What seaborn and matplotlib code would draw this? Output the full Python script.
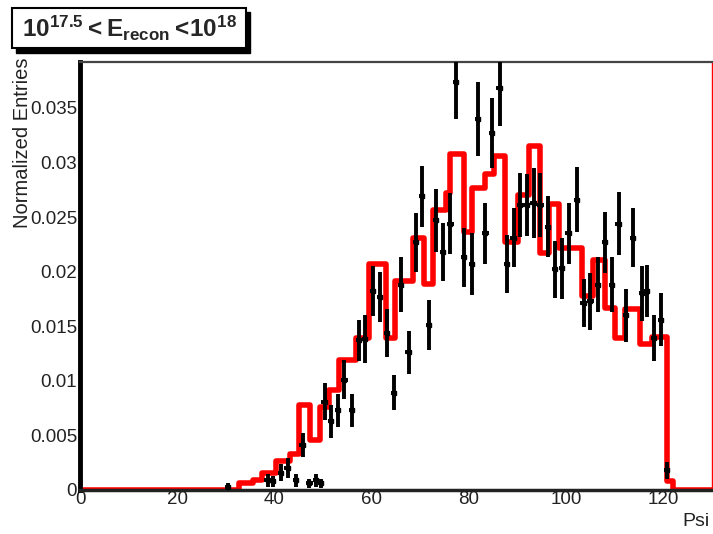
import matplotlib
matplotlib.use("Agg")
import matplotlib.pyplot as plt
from matplotlib.patches import Rectangle
from matplotlib.ticker import MultipleLocator, FuncFormatter
import numpy as np
import pandas as pd
import seaborn as sns

# ---- data ----
red_edges = [0, 32.8, 35.5, 37.5, 40.4, 43.1, 45.1, 47.4, 49.3, 51.3,
             53.3, 56.8, 59.5, 63.0, 64.8, 68.4, 70.8, 72.6, 75.2, 76.2,
             79.0, 80.7, 83.4, 85.1, 87.5, 90.0, 92.3, 94.7, 96.4, 98.5,
             103.2, 105.6, 108.0, 110.1, 112.1, 115.2, 117.6, 120.7, 122.0, 130]
red_vals = [0, 0.0006, 0.0009, 0.0016, 0.0027, 0.0033, 0.0078, 0.0046, 0.0076, 0.0092,
            0.0119, 0.0139, 0.0207, 0.0139, 0.0191, 0.0231, 0.0189, 0.0256, 0.0272, 0.0308,
            0.0236, 0.0277, 0.0289, 0.0306, 0.0227, 0.0270, 0.0315, 0.0217, 0.0262, 0.0222,
            0.0178, 0.0211, 0.0167, 0.0139, 0.0166, 0.0134, 0.0140, 0.0008, 0]

data_psi = [30.5, 38.6, 39.7, 41.4, 42.7, 44.4, 45.8, 47.2, 48.6, 49.6,
            50.3, 51.6, 53.0, 54.4, 55.9, 57.4, 58.6, 60.2, 61.7, 63.2,
            64.6, 66.0, 67.6, 69.1, 70.4, 71.8, 73.2, 74.7, 76.2, 77.4,
            79.0, 80.7, 81.9, 83.4, 84.8, 86.3, 87.9, 89.2, 90.6, 91.9,
            93.3, 94.7, 96.3, 97.7, 99.1, 100.5, 102.2, 103.6, 105.0, 106.5,
            108.0, 109.4, 110.8, 112.3, 113.7, 115.6, 116.6, 118.0, 119.5, 120.7]
data_val = [0.0003, 0.0009, 0.0008, 0.0016, 0.0020, 0.0009, 0.0041, 0.0006, 0.0009, 0.0006,
            0.0081, 0.0063, 0.0073, 0.0101, 0.0073, 0.0137, 0.0138, 0.0182, 0.0177, 0.0144,
            0.0089, 0.0188, 0.0126, 0.0227, 0.0269, 0.0151, 0.0247, 0.0218, 0.0244, 0.0374,
            0.0213, 0.0207, 0.0340, 0.0235, 0.0327, 0.0368, 0.0207, 0.0231, 0.0261, 0.0261,
            0.0263, 0.0261, 0.0241, 0.0202, 0.0203, 0.0235, 0.0266, 0.0171, 0.0173, 0.0188,
            0.0227, 0.0188, 0.0244, 0.0160, 0.0231, 0.0180, 0.0182, 0.0139, 0.0156, 0.0018]
data_err = [0.0003, 0.0006, 0.0005, 0.0008, 0.0009, 0.0006, 0.0011, 0.0004, 0.0006, 0.0004,
            0.0017, 0.0015, 0.0015, 0.0018, 0.0015, 0.0019, 0.0022, 0.0023, 0.0023, 0.0022,
            0.0016, 0.0025, 0.0020, 0.0027, 0.0028, 0.0023, 0.0029, 0.0027, 0.0028, 0.0034,
            0.0027, 0.0028, 0.0034, 0.0028, 0.0032, 0.0035, 0.0027, 0.0027, 0.0029, 0.0028,
            0.0032, 0.0029, 0.0028, 0.0026, 0.0028, 0.0028, 0.0030, 0.0022, 0.0026, 0.0025,
            0.0028, 0.0025, 0.0029, 0.0024, 0.0027, 0.0025, 0.0024, 0.0021, 0.0024, 0.0008]

x_ticks = [0, 20, 40, 60, 80, 100, 120]
y_ticks = [0, 0.005, 0.01, 0.015, 0.02, 0.025, 0.03, 0.035]
title_text = r"$10^{17.5} < E_{recon} <\!10^{18}$"

# ---- style ----
sns.set_style("white")
plt.rcParams["font.family"] = ["Liberation Sans", "DejaVu Sans"]
plt.rcParams["mathtext.fontset"] = "custom"
plt.rcParams["mathtext.rm"] = "Liberation Sans:bold"
plt.rcParams["mathtext.bf"] = "Liberation Sans:bold"
plt.rcParams["mathtext.default"] = "rm"

W, H = 713, 534
fig = plt.figure(figsize=(W / 100, H / 100), dpi=100)
ax = fig.add_axes([80 / W, 1 - 490 / H, (712 - 80) / W, (490 - 62) / H])

# red histogram
centers = [(a + b) / 2 for a, b in zip(red_edges[:-1], red_edges[1:])]
hist_df = pd.DataFrame({"psi": centers, "w": red_vals})
sns.histplot(data=hist_df, x="psi", weights="w", bins=red_edges, element="step",
             fill=False, color="#ff0000", linewidth=4, ax=ax, zorder=2)

# black data points with error bars
ax.errorbar(data_psi, data_val, yerr=data_err, xerr=0.65, fmt="s", color="black",
            ms=3, elinewidth=2.8, capsize=0, zorder=3)

ax.set_xlim(0, 130)
ax.set_ylim(0, 0.0392)
ax.set_xlabel("")
ax.set_ylabel("")

ax.set_xticks(x_ticks)
ax.set_yticks(y_ticks)
ax.xaxis.set_minor_locator(MultipleLocator(5))
ax.yaxis.set_minor_locator(MultipleLocator(0.001))
ax.yaxis.set_major_formatter(FuncFormatter(lambda v, p: "%g" % v))
ax.tick_params(axis="both", which="both", direction="in", top=False, right=False,
               labelsize=13.5, labelcolor="#222222")
ax.tick_params(axis="y", which="major", length=14, width=1.5, pad=2)
ax.tick_params(axis="y", which="minor", length=7, width=2.2)
ax.tick_params(axis="x", which="major", length=10, width=2, pad=1)
ax.tick_params(axis="x", which="minor", length=6, width=2)

ax.spines["left"].set_linewidth(3.5)
ax.spines["left"].set_color("black")
ax.spines["bottom"].set_linewidth(2.5)
ax.spines["bottom"].set_color("#222222")
ax.spines["top"].set_linewidth(1.6)
ax.spines["top"].set_color("#444444")
ax.spines["right"].set_linewidth(1.0)
ax.spines["right"].set_color("#ff0000")

# axis titles (ROOT style placement)
fig.text(23 / W, 1 - 58 / H, "Normalized Entries", rotation=90, ha="center", va="top",
         fontsize=14.5, color="#222222")
fig.text(710 / W, 1 - 522 / H, "Psi", ha="right", va="center", fontsize=14, color="#222222")

# title box with shadow
fig.patches.append(Rectangle((16 / W, 1 - 53 / H), 234 / W, 41 / H, transform=fig.transFigure,
                             facecolor="black", edgecolor="black", zorder=5))
fig.patches.append(Rectangle((12 / W, 1 - 48 / H), 234 / W, 40 / H, transform=fig.transFigure,
                             facecolor="white", edgecolor="black", linewidth=1.5, zorder=6))
fig.text(129 / W, 1 - 28 / H, title_text, ha="center", va="center", fontsize=17.5, zorder=7)

fig.savefig("out.png", dpi=100)
